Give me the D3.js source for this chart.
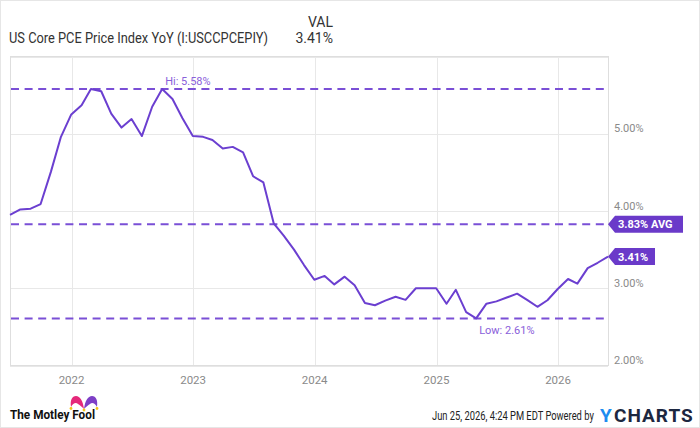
<!DOCTYPE html>
<html>
<head>
<meta charset="utf-8">
<script src="https://cdn.jsdelivr.net/npm/d3@7"></script>
<style>
  html, body { margin: 0; padding: 0; background: #fff; }
  svg { display: block; font-family: Roboto, "Noto Sans", sans-serif; }
</style>
</head>
<body>
<svg id="chart" width="700" height="428"></svg>
<script>
// ---- data ----
const seriesName = "US Core PCE Price Index YoY (I:USCCPCEPIY)";
const startMonth = "2021-06"; // first monthly observation (month-end)
const values = [
  3.95, 4.02, 4.03, 4.09, 4.51, 4.96, 5.25, 5.37, 5.58, 5.55,
  5.26, 5.08, 5.19, 4.97, 5.35, 5.58, 5.45, 5.20, 4.97, 4.96,
  4.92, 4.81, 4.83, 4.76, 4.45, 4.37, 3.84, 3.68, 3.50, 3.30,
  3.11, 3.16, 3.05, 3.15, 3.04, 2.81, 2.78, 2.84, 2.89, 2.85,
  3.00, 3.00, 3.00, 2.80, 2.98, 2.69, 2.61, 2.80, 2.83, 2.88,
  2.93, 2.85, 2.76, 2.845, 2.99, 3.12, 3.06, 3.26, 3.33, 3.41
];
const hiValue = 5.58;
const lowValue = 2.61;
const avgValue = 3.83;
const lastValue = 3.41;
const yTicks = [2, 3, 4, 5];
const xTickYears = [2022, 2023, 2024, 2025, 2026];
const footerDate = "Jun 25, 2026, 4:24 PM EDT Powered by";

// ---- layout ----
const W = 700, H = 428;
const plot = { left: 10, right: 608, top: 56.5, bottom: 365.5 };
const purple = "#6b3fd0";
const dashPurple = "#7a4fd6";

const svg = d3.select("#chart");

// outer frame
svg.append("rect").attr("x", 0.5).attr("y", 0.5).attr("width", W - 1).attr("height", H - 1)
  .attr("fill", "#fff").attr("stroke", "#e6e6e6");

const parseM = d3.timeParse("%Y-%m");
const first = parseM(startMonth);
const dates = values.map((v, i) => d3.timeDay.offset(d3.timeMonth.offset(first, i + 1), -1));
const data = values.map((v, i) => ({ date: dates[i], value: v }));

const x = d3.scaleTime()
  .domain([dates[0], dates[dates.length - 1]])
  .range([plot.left, plot.right]);
const y = d3.scaleLinear().domain([2, 6]).range([plot.bottom, plot.top]);

// gridlines
const g = svg.append("g");
g.selectAll("line.hgrid").data(yTicks.concat([6])).join("line")
  .attr("class", "hgrid")
  .attr("x1", plot.left).attr("x2", plot.right)
  .attr("y1", d => Math.round(y(d)) + 0.5).attr("y2", d => Math.round(y(d)) + 0.5)
  .attr("stroke", "#e8e8e8").attr("stroke-width", 1);
g.selectAll("line.vgrid").data(xTickYears).join("line")
  .attr("class", "vgrid")
  .attr("x1", d => Math.round(x(new Date(d, 0, 1))) + 0.5)
  .attr("x2", d => Math.round(x(new Date(d, 0, 1))) + 0.5)
  .attr("y1", plot.top).attr("y2", plot.bottom)
  .attr("stroke", "#e8e8e8").attr("stroke-width", 1);

// plot frame
svg.append("rect")
  .attr("x", plot.left + 0.5).attr("y", plot.top)
  .attr("width", plot.right - plot.left).attr("height", plot.bottom - plot.top)
  .attr("fill", "none").attr("stroke", "#dedede");

// y axis labels (right)
svg.append("g").selectAll("text").data(yTicks).join("text")
  .attr("x", 614).attr("y", d => y(d) - 1.5)
  .attr("font-size", 11).attr("fill", "#8a8a8a")
  .text(d => d3.format(".2f")(d) + "%");

// x axis labels
svg.append("g").selectAll("text").data(xTickYears).join("text")
  .attr("x", d => x(new Date(d, 0, 1))).attr("y", 384)
  .attr("text-anchor", "middle")
  .attr("font-size", 11.5).attr("fill", "#8a8a8a")
  .text(d => d);

// dashed reference lines
const refs = [hiValue, avgValue, lowValue];
svg.append("g").selectAll("line").data(refs).join("line")
  .attr("x1", plot.left + 1).attr("x2", plot.right - 2)
  .attr("y1", d => y(d)).attr("y2", d => y(d))
  .attr("stroke", dashPurple).attr("stroke-width", 2)
  .attr("stroke-dasharray", "8,5.6");

// series line
svg.append("path").datum(data)
  .attr("fill", "none").attr("stroke", purple).attr("stroke-width", 2)
  .attr("stroke-linejoin", "round")
  .attr("d", d3.line().x(d => x(d.date)).y(d => y(d.value)));

// Hi / Low labels
const hiIdx = values.lastIndexOf(hiValue);
const lowIdx = values.indexOf(lowValue);
svg.append("text")
  .attr("x", x(dates[hiIdx]) + 3).attr("y", y(hiValue) - 4)
  .attr("font-size", 11).attr("fill", "#8a60da")
  .text("Hi: " + d3.format(".2f")(hiValue) + "%");
svg.append("text")
  .attr("x", x(dates[lowIdx]) + 3).attr("y", y(lowValue) + 16)
  .attr("font-size", 11).attr("fill", "#8a60da")
  .text("Low: " + d3.format(".2f")(lowValue) + "%");

// right tags
function tag(val, label, bodyW) {
  const cy = y(val);
  const tipX = plot.right, bx = plot.right + 7, h = 17;
  svg.append("path")
    .attr("d", `M${tipX},${cy} L${bx},${cy - h / 2} L${bx + bodyW},${cy - h / 2} L${bx + bodyW},${cy + h / 2} L${bx},${cy + h / 2} Z`)
    .attr("fill", "#6a3ac9");
  svg.append("text")
    .attr("x", bx + 3).attr("y", cy + 4)
    .attr("font-size", 11).attr("font-weight", "bold").attr("fill", "#fff")
    .text(label);
}
tag(avgValue, d3.format(".2f")(avgValue) + "% AVG", 68);
tag(lastValue, d3.format(".2f")(lastValue) + "%", 40);

// header
svg.append("text").attr("x", 9).attr("y", 42.5)
  .attr("font-size", 14).attr("fill", "#333")
  .attr("textLength", 259).attr("lengthAdjust", "spacingAndGlyphs")
  .text(seriesName);
svg.append("text").attr("x", 333).attr("y", 26.5).attr("text-anchor", "end")
  .attr("font-size", 14).attr("fill", "#333").text("VAL");
svg.append("text").attr("x", 333).attr("y", 42.5).attr("text-anchor", "end")
  .attr("font-size", 14).attr("fill", "#333").text(d3.format(".2f")(lastValue) + "%");

// footer: Motley Fool logo
const fool = svg.append("g");
fool.append("path")
  .attr("d", "M84,409 C83,401 80,396 76,396 C72,396 70,400 71,407 C73,403 76,402 78,404 C80,405 82,407 84,409 Z")
  .attr("fill", "#e5287a");
fool.append("path")
  .attr("d", "M84,409 C85,401 88,396 92,396 C96,396 98,400 97,407 C95,403 92,402 90,404 C88,405 86,407 84,409 Z")
  .attr("fill", "#7d3fc6");
[[71, 408.5], [84, 410], [97, 408.5]].forEach(p => {
  fool.append("circle").attr("cx", p[0]).attr("cy", p[1]).attr("r", 1.4).attr("fill", "#f5c518");
});
fool.append("text").attr("x", 10).attr("y", 419)
  .attr("font-size", 12).attr("font-weight", "bold").attr("fill", "#111")
  .attr("textLength", 85).attr("lengthAdjust", "spacingAndGlyphs")
  .text("The Motley Fool");

// footer: date + YCharts (date text horizontally condensed via transform)
svg.append("g").attr("transform", "translate(432,419.5) scale(0.78,1)")
  .append("text").attr("x", 0).attr("y", 0)
  .attr("font-size", 12).attr("fill", "#222")
  .text(footerDate);
svg.append("text").attr("x", 600).attr("y", 421.5)
  .attr("font-size", 19).attr("font-weight", "bold").attr("fill", "#1d8cf0")
  .text("Y");
svg.append("text").attr("x", 614).attr("y", 421.5)
  .attr("font-size", 19).attr("font-weight", "bold").attr("fill", "#1c2740")
  .attr("letter-spacing", 1)
  .text("CHARTS");
</script>
</body>
</html>
